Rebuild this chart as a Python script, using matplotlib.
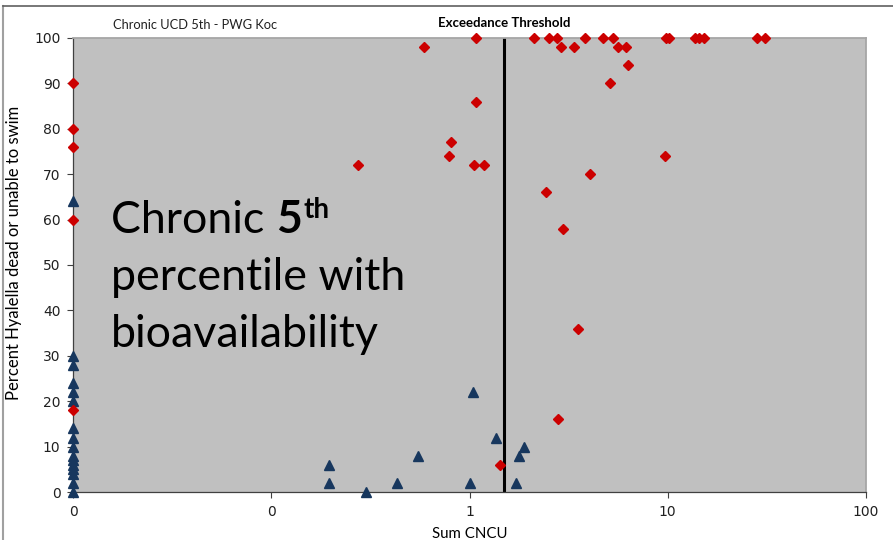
import matplotlib
matplotlib.use("Agg")
import matplotlib.pyplot as plt
from matplotlib.lines import Line2D

# red diamonds - exceeds
red_x = [0.01, 0.01, 0.01, 0.01, 0.01,
         0.275, 0.587, 0.79, 0.81, 1.057, 1.19, 1.08, 1.08, 1.43,
         2.11, 2.51, 2.77, 3.83, 4.71, 5.28, 9.8, 10.1, 13.7, 14.4, 15.2, 28.1, 30.9,
         2.89, 3.38, 5.58, 6.15, 6.28, 5.10,
         9.72, 4.04, 2.43, 2.97, 3.54, 2.81]
red_y = [90, 80, 76, 60, 18,
         72, 98, 74, 77, 72, 72, 86, 100, 6,
         100, 100, 100, 100, 100, 100, 100, 100, 100, 100, 100, 100, 100,
         98, 98, 98, 98, 94, 90,
         74, 70, 66, 58, 36, 16]

# blue triangles
blue_x = [0.01] * 16 + [0.196, 0.196, 0.30, 0.432, 0.552,
                        1.04, 1.01, 1.36, 1.88, 1.77, 1.72]
blue_y = [0, 2, 4, 5, 6, 7, 8, 10, 12, 14, 20, 22, 24, 28, 30, 64,
          6, 2, 0, 2, 8,
          22, 2, 12, 10, 8, 2]

threshold = 1.5
xticks = [0.01, 0.1, 1, 10, 100]
xtick_labels = ["0", "0", "1", "10", "100"]
yticks = list(range(0, 101, 10))

fig = plt.figure(figsize=(8.93, 5.40), dpi=100)
W, H = 893, 540
ax = fig.add_axes([73 / W, 1 - 492 / H, (866 - 73) / W, (492 - 38) / H])
ax.set_facecolor("#C0C0C0")
ax.set_xscale("log")
ax.set_xlim(0.01, 100)
ax.set_ylim(0, 100)

ax.axvline(threshold, color="black", lw=2.2, zorder=2)
ax.plot(blue_x, blue_y, ls="none", marker="^", ms=7.5, color="#17375E",
        clip_on=False, zorder=3)
ax.plot(red_x, red_y, ls="none", marker="D", ms=5.5, color="#CC0000",
        clip_on=False, zorder=4)

ax.set_xticks(xticks)
ax.set_xticklabels(xtick_labels)
ax.xaxis.set_minor_locator(matplotlib.ticker.NullLocator())
ax.set_yticks(yticks)
ax.tick_params(labelsize=10, length=4, width=0.8, color="#404040",
               labelcolor="#202020", pad=5)
for s in ["left", "bottom"]:
    ax.spines[s].set_color("#404040")
    ax.spines[s].set_linewidth(0.9)
for s in ["top", "right"]:
    ax.spines[s].set_color("#A6A6A6")
    ax.spines[s].set_linewidth(1.3)

ax.set_xlabel("Sum CNCU", family="Lato", fontsize=10.8, labelpad=6)
ax.set_ylabel("Percent Hyalella dead or unable to swim", family="Lato",
              fontsize=12)
ax.yaxis.set_label_coords((22 - 73) / (866 - 73), (492 - 253) / (492 - 38))

fig.text(113 / W, 1 - 25 / H, "Chronic UCD 5th - PWG Koc", family="Lato",
         fontsize=9.3, va="center", ha="left", color="#202020")
fig.text(504 / W, 1 - 23 / H, "Exceedance Threshold", family="Lato",
         fontsize=9.5, fontweight="bold", va="center", ha="center")

# big annotation
big = 32.2
fig.canvas.draw()
r = fig.canvas.get_renderer()
t1 = fig.text(111 / W, 1 - 233 / H, "Chronic ", family="Lato", fontsize=big,
              va="baseline", ha="left")
bb = t1.get_window_extent(r)
t2 = fig.text(bb.x1 / W, 1 - 233 / H, "5", family="Lato", fontsize=big,
              fontweight="bold", va="baseline", ha="left")
bb2 = t2.get_window_extent(r)
fig.text(bb2.x1 / W + 0.002, 1 - 218 / H, "th", family="Lato",
         fontsize=big * 0.62, fontweight="bold", va="baseline", ha="left")
fig.text(111 / W, 1 - 290 / H, "percentile with", family="Lato", fontsize=big,
         va="baseline", ha="left")
fig.text(111 / W, 1 - 347 / H, "bioavailability", family="Lato", fontsize=big,
         va="baseline", ha="left")

# slide frame
fig.add_artist(Line2D([3 / W, 3 / W], [0, 1 - 6 / H], color="#A0A0A0", lw=1.5))
fig.add_artist(Line2D([3 / W, 1], [1 - 6 / H, 1 - 6 / H], color="#606060", lw=1.2))

plt.savefig("out.png", dpi=100)
